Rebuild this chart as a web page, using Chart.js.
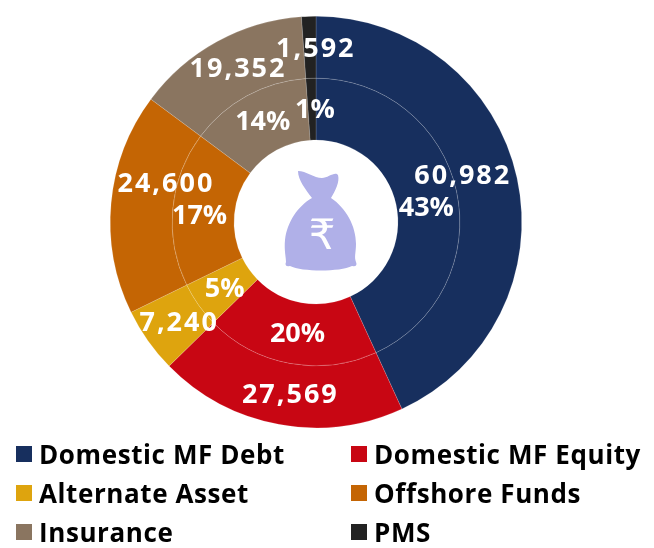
<!DOCTYPE html>
<html>
<head>
<meta charset="utf-8">
<script src="https://cdn.jsdelivr.net/npm/chart.js@4"></script>
<style>
    html, body { margin: 0; padding: 0; background: #fff; }
    #wrap { position: relative; width: 654px; height: 548px; overflow: hidden; }
    #legend { position: absolute; left: 0; top: 0; font: bold 26px "Open Sans", sans-serif; letter-spacing: 0.6px; color: #000; }
    .item { position: absolute; white-space: nowrap; line-height: 30px; }
    .swatch { position: absolute; width: 16px; height: 16px; }
</style>
</head>
<body>
<div id="wrap">
    <canvas id="chart" width="654" height="548"></canvas>
    <div id="legend"></div>
</div>
<script>
const categories = ["Domestic MF Debt", "Domestic MF Equity", "Alternate Asset", "Offshore Funds", "Insurance", "PMS"];
const amounts = [60982, 27569, 7240, 24600, 19352, 1592];
const amountLabels = ["60,982", "27,569", "7,240", "24,600", "19,352", "1,592"];
const shareLabels = ["43%", "20%", "5%", "17%", "14%", "1%"];
const colors = ["#172F5E", "#C80613", "#DEA40E", "#C46504", "#8A7560", "#222222"];

const LABEL_FONT = 'bold 27px "Open Sans", sans-serif';

// Hand-placed nudges, the labels in the original do not sit on the arc centres
const outerNudge = [[-24, -8], [6, 1], [6, 0], [24, -21], [6, 1], [6, 2]];
const innerNudge = [[0, 10], [2, 1], [1, 2], [-4, 5], [1, -1], [3, 1]];

const sliceLabels = {
    id: "sliceLabels",
    afterDatasetsDraw(chart) {
        const ctx = chart.ctx;
        ctx.save();
        ctx.font = LABEL_FONT;
        ctx.fillStyle = "#fff";
        ctx.textAlign = "center";
        ctx.textBaseline = "middle";
        ctx.letterSpacing = "2px";
        chart.getDatasetMeta(0).data.forEach((arc, i) => {
            const p = arc.getCenterPoint();
            ctx.fillText(amountLabels[i], p.x + outerNudge[i][0], p.y + outerNudge[i][1]);
        });
        ctx.letterSpacing = "0px";
        chart.getDatasetMeta(1).data.forEach((arc, i) => {
            const p = arc.getCenterPoint();
            ctx.fillText(shareLabels[i], p.x + innerNudge[i][0], p.y + innerNudge[i][1]);
        });
        ctx.restore();
    }
};

// Money bag in the doughnut hole
const bagIcon = {
    id: "bagIcon",
    afterDraw(chart) {
        const ctx = chart.ctx;
        const arc = chart.getDatasetMeta(0).data[0];
        const ox = arc.x - 316, oy = arc.y - 222;
        ctx.save();
        ctx.translate(ox, oy);
        ctx.fillStyle = "#B0B0E8";
        ctx.beginPath();
        ctx.moveTo(298, 171);
        ctx.bezierCurveTo(306, 171, 314, 178, 322, 178);
        ctx.bezierCurveTo(328, 178, 335, 171, 338, 175);
        ctx.bezierCurveTo(340, 182, 335, 191, 331, 198);
        ctx.bezierCurveTo(346, 208, 356, 226, 356, 244);
        ctx.bezierCurveTo(356, 252, 354, 257, 356, 262);
        ctx.quadraticCurveTo(358, 267, 352, 266);
        ctx.bezierCurveTo(340, 272, 302, 272, 290, 266);
        ctx.quadraticCurveTo(284, 267, 286, 262);
        ctx.bezierCurveTo(286, 257, 284, 250, 285, 240);
        ctx.bezierCurveTo(287, 222, 298, 206, 312, 198);
        ctx.bezierCurveTo(306, 190, 298, 180, 298, 171);
        ctx.closePath();
        ctx.fill();
        ctx.fillStyle = "#fff";
        ctx.font = '42px "DejaVu Sans", sans-serif';
        ctx.textAlign = "center";
        ctx.textBaseline = "middle";
        ctx.fillText("\u20B9", 322, 238);
        ctx.restore();
    }
};

const thinEdge = "rgba(255,255,255,0.3)";
new Chart(document.getElementById("chart"), {
    type: "doughnut",
    data: {
        labels: categories,
        datasets: [
            { data: amounts, backgroundColor: colors, borderColor: thinEdge, borderWidth: 0.5 },
            { data: amounts, backgroundColor: colors, borderColor: thinEdge, borderWidth: 0.5 }
        ]
    },
    options: {
        responsive: false,
        animation: false,
        cutout: 82,
        layout: { padding: { left: 110, right: 132, top: 16, bottom: 120 } },
        plugins: { legend: { display: false }, tooltip: { enabled: false } }
    },
    plugins: [sliceLabels, bagIcon]
});

// Two column legend, Chart.js can't line its items up in columns like this
const legendEl = document.getElementById("legend");
categories.forEach((name, i) => {
    const col = i % 2, row = Math.floor(i / 2);
    const swatch = document.createElement("div");
    swatch.className = "swatch";
    swatch.style.left = (col ? 351 : 16) + "px";
    swatch.style.top = 446 + row * 39 + "px";
    swatch.style.background = colors[i];
    legendEl.appendChild(swatch);
    const item = document.createElement("div");
    item.className = "item";
    item.textContent = name;
    item.style.left = (col ? 374 : 39) + "px";
    item.style.top = 439 + row * 39 + "px";
    legendEl.appendChild(item);
});
</script>
</body>
</html>
